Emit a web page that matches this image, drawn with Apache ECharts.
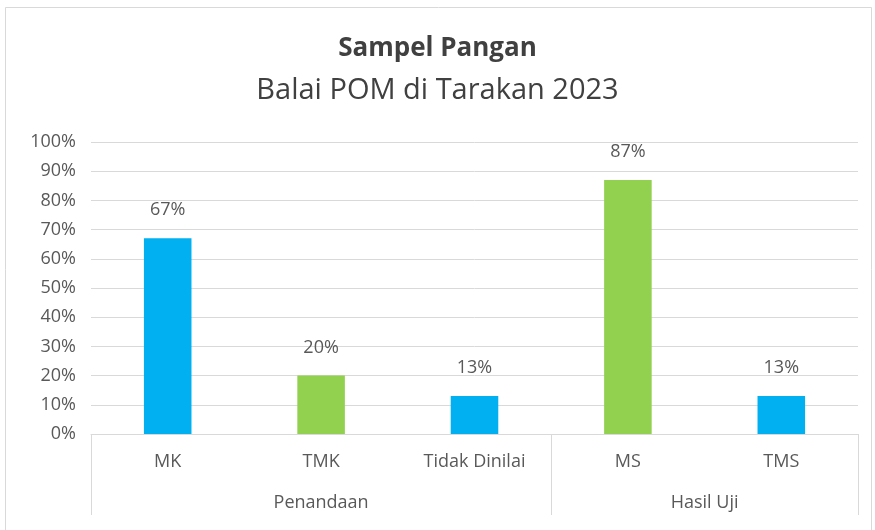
<!DOCTYPE html>
<html>
<head>
<meta charset="utf-8">
<script src="https://cdn.jsdelivr.net/npm/echarts@6/dist/echarts.min.js"></script>
<style>
  html, body { margin: 0; padding: 0; background: #fff; }
  #chart { width: 875px; height: 530px; }
</style>
</head>
<body>
<div id="chart"></div>
<script>
  // data
  var categories = ['MK', 'TMK', 'Tidak Dinilai', 'MS', 'TMS'];
  var values = [67, 20, 13, 87, 13];
  var groups = ['Penandaan', 'Hasil Uji'];
  var groupSizes = [3, 2];
  var yTicks = [0, 10, 20, 30, 40, 50, 60, 70, 80, 90, 100];

  var barColors = ['#00B0F0', '#92D050', '#00B0F0', '#92D050', '#00B0F0'];
  var textColor = '#595959';
  var font = '"Open Sans", Lato, sans-serif';

  // group boundaries and centres on a 0..n scale
  var bounds = [0];
  var centres = [];
  groupSizes.forEach(function (n, i) {
    var start = bounds[bounds.length - 1];
    bounds.push(start + n);
    centres.push(start + n / 2);
  });

  var chart = echarts.init(document.getElementById('chart'));

  chart.setOption({
    animation: false,
    backgroundColor: '#fff',
    textStyle: { fontFamily: font },
    title: {
      text: 'Sampel Pangan',
      subtext: 'Balai POM di Tarakan 2023',
      left: 'center',
      top: 31,
      itemGap: 14,
      textStyle: { fontFamily: font, fontSize: 26, fontWeight: 'bold', color: '#404040' },
      subtextStyle: { fontFamily: font, fontSize: 29, color: '#404040' }
    },
    graphic: [{
      type: 'rect',
      shape: { x: 5.5, y: 7.5, width: 866, height: 530 },
      style: { fill: 'none', stroke: '#d9d9d9', lineWidth: 1 },
      silent: true
    }],
    grid: { left: 91, right: 17, top: 142, bottom: 96 },
    xAxis: [{
      type: 'category',
      data: categories,
      axisLine: { lineStyle: { color: '#d9d9d9' } },
      axisTick: { show: false },
      axisLabel: { color: textColor, fontSize: 18, margin: 19, interval: 0 }
    }, {
      type: 'value',
      position: 'bottom',
      min: 0,
      max: bounds[bounds.length - 1],
      axisLine: { show: false },
      splitLine: { show: false },
      axisTick: {
        show: true,
        customValues: bounds,
        length: 81,
        lineStyle: { color: '#d9d9d9' }
      },
      axisLabel: {
        customValues: centres,
        margin: 60,
        color: textColor,
        fontSize: 18,
        formatter: function (v) {
          var i = centres.indexOf(v);
          return i >= 0 ? groups[i] : '';
        }
      }
    }],
    yAxis: {
      type: 'value',
      min: yTicks[0],
      max: yTicks[yTicks.length - 1],
      interval: yTicks[1] - yTicks[0],
      axisLine: { show: false },
      axisTick: { show: false },
      splitLine: { lineStyle: { color: '#d9d9d9' } },
      axisLabel: { color: textColor, fontSize: 18, margin: 15, formatter: '{value}%' }
    },
    series: [{
      type: 'bar',
      xAxisIndex: 0,
      data: values,
      barWidth: '31%',
      itemStyle: {
        color: function (p) { return barColors[p.dataIndex]; }
      },
      label: {
        show: true,
        position: 'top',
        distance: 19,
        color: textColor,
        fontSize: 18,
        formatter: '{c}%'
      }
    }]
  });
</script>
</body>
</html>
